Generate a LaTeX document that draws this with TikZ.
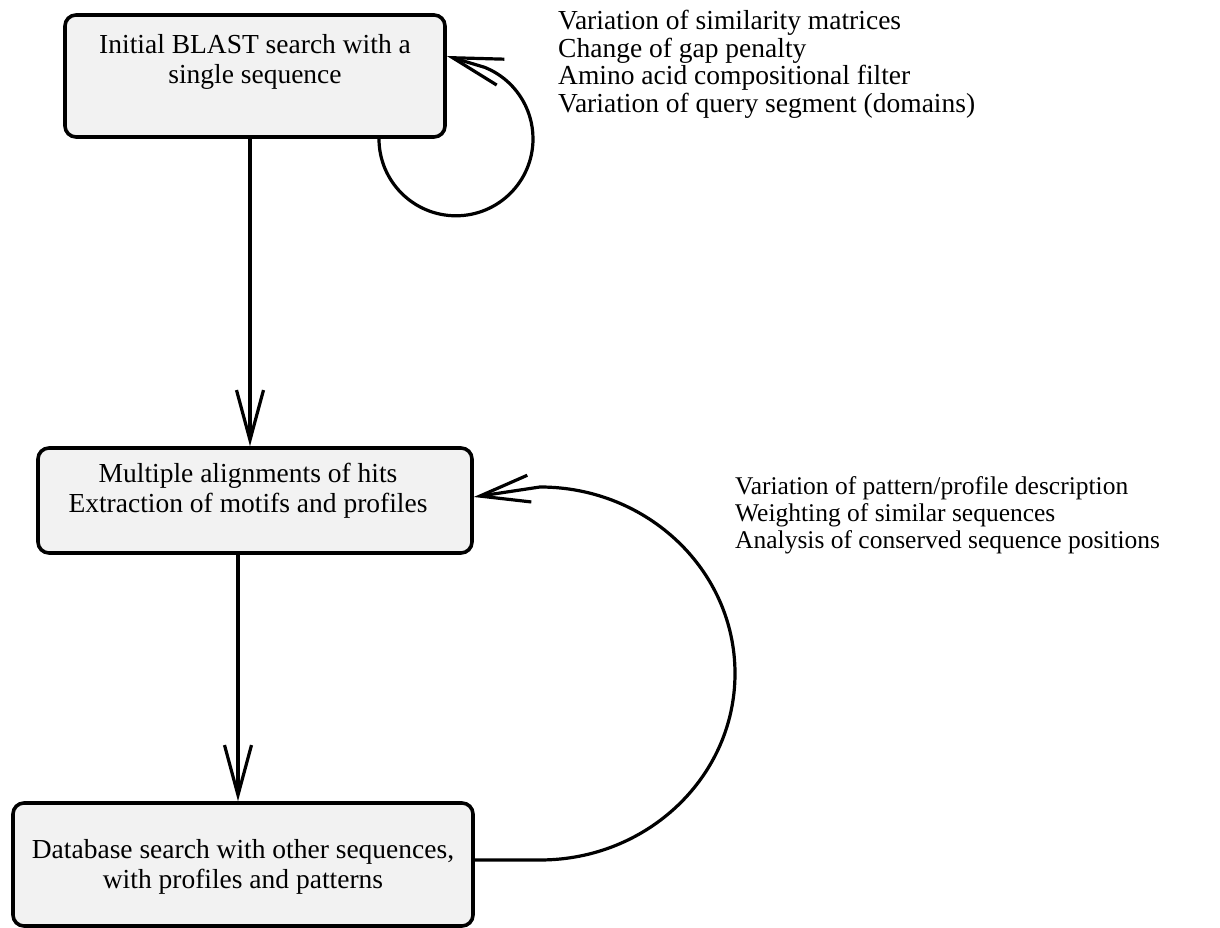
\documentclass[tikz,border=0pt]{standalone}
\usepackage{fontspec}
\setmainfont{Liberation Serif}
\usetikzlibrary{arrows.meta,calc}
\begin{document}
\begin{tikzpicture}[x=1pt,y=1pt,
  box/.style={draw=black, line width=3.6pt, rounded corners=11pt, fill=gray!10,
    inner sep=0pt},
  boxtext/.style={align=center, inner sep=0pt, font=\fontsize{27.5}{29.5}\selectfont},
  side/.style={align=left, anchor=north west, inner sep=0pt},
  arr/.style={line width=3.2pt, -{Straight Barb[length=50pt,width=27pt,line width=3.2pt]}}]
\useasboundingbox (0,0) rectangle (1220,928);
\node[box, minimum width=380pt, minimum height=122pt] (b1) at (255,852) {};
\node[boxtext] (l1) at (255,866) {Initial BLAST search with a\\single sequence};
\node[box, minimum width=434pt, minimum height=105pt] (b2) at (255,427.5) {};
\node[boxtext] (l2) at (248,437) {Multiple alignments of hits\\Extraction of motifs and profiles};
\node[box, minimum width=460pt, minimum height=123pt] (b3) at (243,63.5) {};
\node[boxtext] (l3) at (243,61) {Database search with other sequences,\\with profiles and patterns};
\node[side, font=\fontsize{27.5}{27.7}\selectfont] (t1) at (558,918) {Variation of similarity matrices\\Change of gap penalty\\Amino acid compositional filter\\Variation of query segment (domains)};
\node[side, font=\fontsize{25.5}{27.3}\selectfont] (t2) at (735,452) {Variation of pattern/profile description\\Weighting of similar sequences\\Analysis of conserved sequence positions};
\draw[arr] (b1.south -| 250,0) -- (b2.north -| 250,0);
\draw[arr] (b2.south -| 238,0) -- (b3.north -| 238,0);
\draw[arr] ($(b1.south)+(124,0)$) arc[start angle=180, end angle=428, radius=77] -- ($(b1.east)+(0,20)$);
\draw[arr] ($(b3.east)+(0,4.5)$) -- (540,68) arc[start angle=270, end angle=450, x radius=195, y radius=186.5] -- ($(b2.east)+(0,3.5)$);
\end{tikzpicture}
\end{document}
